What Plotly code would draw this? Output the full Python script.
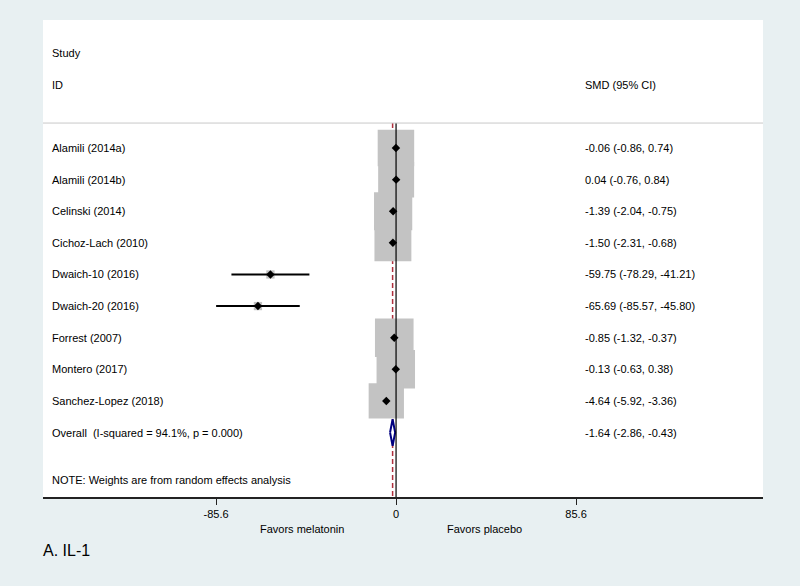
import plotly.graph_objects as go

# study level results (SMD with 95% CI) and random-effects weights (%)
studies = ["Alamili (2014a)", "Alamili (2014b)", "Celinski (2014)", "Cichoz-Lach (2010)",
           "Dwaich-10 (2016)", "Dwaich-20 (2016)", "Forrest (2007)", "Montero (2017)",
           "Sanchez-Lopez (2018)"]
smd = [-0.06, 0.04, -1.39, -1.50, -59.75, -65.69, -0.85, -0.13, -4.64]
ci_low = [-0.86, -0.76, -2.04, -2.31, -78.29, -85.57, -1.32, -0.63, -5.92]
ci_high = [0.74, 0.84, -0.75, -0.68, -41.21, -45.80, -0.37, 0.38, -3.36]
weights = [13.6, 13.2, 14.9, 13.9, 0.7, 0.7, 15.2, 15.1, 12.7]

# pooled estimate
overall = -1.64
overall_low = -2.86
overall_high = -0.43
i_squared = 94.1
p_value = 0.000

tick_vals = [-85.6, 0, 85.6]
tick_text = ["-85.6", "0", "85.6"]

FONT = "Liberation Sans, Arial, sans-serif"
rows = list(range(len(studies)))
overall_row = len(studies)
header_line = -0.79
y_bottom = 11.04

fig = go.Figure()

# weight boxes (area proportional to weight)
fig.add_trace(go.Scatter(
    x=smd, y=rows, mode="markers",
    marker=dict(symbol="square", size=[9.9 * w ** 0.5 for w in weights],
                color="#c3c3c3", opacity=1, line=dict(width=0)),
    hoverinfo="skip", showlegend=False))

# confidence intervals
ci_x, ci_y = [], []
for r, lo, hi in zip(rows, ci_low, ci_high):
    ci_x += [lo, hi, None]
    ci_y += [r, r, None]
fig.add_trace(go.Scatter(x=ci_x, y=ci_y, mode="lines",
                         line=dict(color="black", width=2),
                         hoverinfo="skip", showlegend=False))

# point estimates
fig.add_trace(go.Scatter(
    x=smd, y=rows, mode="markers",
    marker=dict(symbol="diamond", size=6.5, color="black"),
    hoverinfo="skip", showlegend=False))

# overall diamond
fig.add_trace(go.Scatter(
    x=[overall_low, overall, overall_high, overall, overall_low],
    y=[overall_row, overall_row - 0.42, overall_row, overall_row + 0.42, overall_row],
    mode="lines", fill="toself", fillcolor="white",
    line=dict(color="#000080", width=2),
    hoverinfo="skip", showlegend=False))

# null line and overall effect line
fig.add_shape(type="line", x0=0, x1=0, y0=header_line, y1=y_bottom + 0.2,
              xref="x", yref="y", line=dict(color="black", width=1.2), layer="above")
fig.add_shape(type="line", x0=overall, x1=overall, y0=header_line, y1=y_bottom,
              xref="x", yref="y", line=dict(color="#b0303e", width=1.5, dash="5px,3px"),
              layer="below")
fig.add_shape(type="line", x0=0, x1=1, y0=header_line, y1=header_line,
              xref="paper", yref="y", line=dict(color="#c8c8c8", width=1))

left_x = 0.0097
right_x = 0.750
txt = dict(family=FONT, size=11, color="black")

fig.add_annotation(x=left_x, y=-3, xref="paper", yref="y", text="Study",
                   showarrow=False, xanchor="left", font=txt)
fig.add_annotation(x=left_x, y=-2, xref="paper", yref="y", text="ID",
                   showarrow=False, xanchor="left", font=txt)
fig.add_annotation(x=right_x, y=-2, xref="paper", yref="y", text="SMD (95% CI)",
                   showarrow=False, xanchor="left", font=txt)

for r, name, m, lo, hi in zip(rows, studies, smd, ci_low, ci_high):
    fig.add_annotation(x=left_x, y=r, xref="paper", yref="y", text=name,
                       showarrow=False, xanchor="left", font=txt)
    fig.add_annotation(x=right_x, y=r, xref="paper", yref="y",
                       text=f"{m:.2f} ({lo:.2f}, {hi:.2f})",
                       showarrow=False, xanchor="left", font=txt)

fig.add_annotation(x=left_x, y=overall_row, xref="paper", yref="y",
                   text=f"Overall  (I-squared = {i_squared:.1f}%, p = {p_value:.3f})",
                   showarrow=False, xanchor="left", font=txt)
fig.add_annotation(x=right_x, y=overall_row, xref="paper", yref="y",
                   text=f"{overall:.2f} ({overall_low:.2f}, {overall_high:.2f})",
                   showarrow=False, xanchor="left", font=txt)
fig.add_annotation(x=left_x, y=overall_row + 1.5, xref="paper", yref="y",
                   text="NOTE: Weights are from random effects analysis",
                   showarrow=False, xanchor="left", font=txt)

# axis captions and panel label
fig.add_annotation(x=-44.7, y=-0.067, xref="x", yref="paper", text="Favors melatonin",
                   showarrow=False, xanchor="center", yanchor="middle", font=txt)
fig.add_annotation(x=42.1, y=-0.067, xref="x", yref="paper", text="Favors placebo",
                   showarrow=False, xanchor="center", yanchor="middle", font=txt)
fig.add_annotation(x=-0.003, y=-0.113, xref="paper", yref="paper", text="A. IL-1",
                   showarrow=False, xanchor="left", yanchor="middle",
                   font=dict(family=FONT, size=16, color="black"))

fig.update_layout(
    width=800, height=586,
    margin=dict(l=43, r=37, t=20, b=89),
    paper_bgcolor="#e8f0f2", plot_bgcolor="white",
    font=dict(family=FONT, size=11, color="black"),
    xaxis=dict(range=[-167.9, 174.5], tickvals=tick_vals, ticktext=tick_text,
               showgrid=False, zeroline=False, showline=True, linecolor="#222222",
               linewidth=1.5, ticks="outside", ticklen=6, tickcolor="#222222",
               tickfont=dict(family=FONT, size=11, color="black")),
    yaxis=dict(range=[y_bottom, -4.05], showgrid=False, zeroline=False,
               showticklabels=False, showline=False),
)

# drop the default page margin so the figure sits at the window's corner
fig.write_html("out.html", config={"displayModeBar": False},
               post_script="document.body.style.margin='0';")
